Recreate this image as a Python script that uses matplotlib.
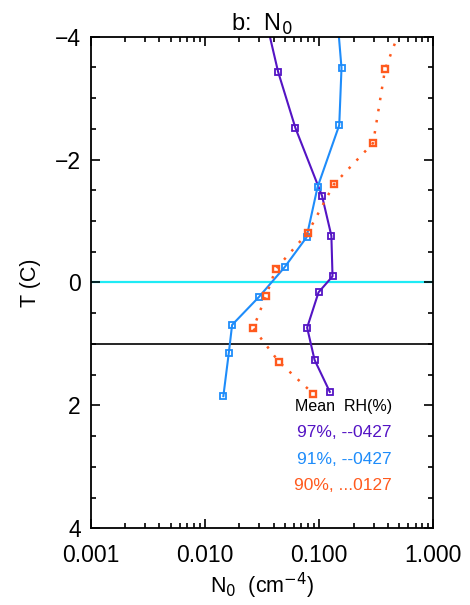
import matplotlib
matplotlib.use("Agg")
import matplotlib.pyplot as plt
from matplotlib.ticker import LogLocator, FixedLocator, MultipleLocator, FuncFormatter

# N0 profiles versus temperature for three mean-RH classes
t_97 = [-4.4, -3.43, -2.51, -1.41, -0.76, -0.10, 0.16, 0.735, 1.26, 1.78]
n0_97 = [0.033, 0.0437, 0.0621, 0.106, 0.128, 0.131, 0.0988, 0.0785, 0.0912, 0.124]

t_91 = [-4.4, -3.49, -2.56, -1.55, -0.735, -0.247, 0.236, 0.69, 1.14, 1.85]
n0_91 = [0.143, 0.157, 0.150, 0.0968, 0.0776, 0.0498, 0.0297, 0.0173, 0.0162, 0.0145]

t_90 = [-4.4, -3.47, -2.27, -1.60, -0.81, -0.22, 0.22, 0.745, 1.29, 1.81]
n0_90 = [0.585, 0.378, 0.297, 0.135, 0.0796, 0.0418, 0.0342, 0.0265, 0.0444, 0.0887]

ref_lines = [0.0, 1.0]
legend_lines = ["97%, --0427", "91%, --0427", "90%, ...0127"]

purple = "#5414C4"
blue = "#1E8CFA"
orange = "#FF5A1E"
cyan = "#1EEBF5"

plt.rcParams['font.family'] = ['Liberation Sans', 'DejaVu Sans']

fig = plt.figure(figsize=(4.7, 6.05), dpi=100)
ax = fig.add_axes([0.193, 0.1268, 0.729, 0.8126])

ax.axhline(ref_lines[0], color=cyan, lw=1.6, zorder=1)
ax.axhline(ref_lines[1], color="black", lw=1.2, zorder=1)

ax.plot(n0_97, t_97, '-', color=purple, lw=1.5, marker='s', ms=5,
        mfc='none', mec=purple, mew=1.3)
ax.plot(n0_91, t_91, '-', color=blue, lw=1.5, marker='s', ms=5,
        mfc='none', mec=blue, mew=1.3)
ax.plot(n0_90, t_90, linestyle=(0, (1, 3.5)), color=orange, lw=1.8,
        marker='s', ms=5, mfc='none', mec=orange, mew=1.7)

ax.set_xscale('log')
ax.set_xlim(0.001, 1.0)
ax.set_ylim(4, -4)

ax.xaxis.set_major_locator(FixedLocator([0.001, 0.01, 0.1, 1.0]))
ax.xaxis.set_minor_locator(LogLocator(base=10, subs=range(2, 10)))
ax.xaxis.set_major_formatter(FuncFormatter(lambda v, p: "%.3f" % v))
ax.xaxis.set_minor_formatter(FuncFormatter(lambda v, p: ""))
ax.yaxis.set_major_locator(MultipleLocator(2))
ax.yaxis.set_minor_locator(MultipleLocator(0.5))
ax.yaxis.set_major_formatter(FuncFormatter(lambda v, p: "\u2212%d" % -v if v < 0 else "%d" % v))

ax.tick_params(which='both', direction='in', top=True, right=True,
               labelsize=16.5, width=1.2)
ax.tick_params(which='major', length=6.5)
ax.tick_params(axis='x', which='major', pad=11)
ax.tick_params(axis='y', which='major', pad=7)
ax.tick_params(which='minor', length=3.5)
for s in ax.spines.values():
    s.set_linewidth(1.3)

ax.set_xlabel("N$_0$  (cm$^{-4}$)", fontsize=15.5, labelpad=3)
ax.set_ylabel("T (C)", fontsize=15.5, labelpad=10)
ax.set_title("b:  N$_0$", fontsize=17, pad=4)

ax.text(0.879, 0.247, "Mean  RH(%)", transform=ax.transAxes, ha='right',
        va='center', fontsize=11.5, color='black')
for txt, col, yy in zip(legend_lines, [purple, blue, orange], [0.1945, 0.140, 0.0867]):
    ax.text(0.879, yy, txt, transform=ax.transAxes, ha='right', va='center',
            fontsize=12.5, color=col)

fig.savefig("out.png", dpi=100)
